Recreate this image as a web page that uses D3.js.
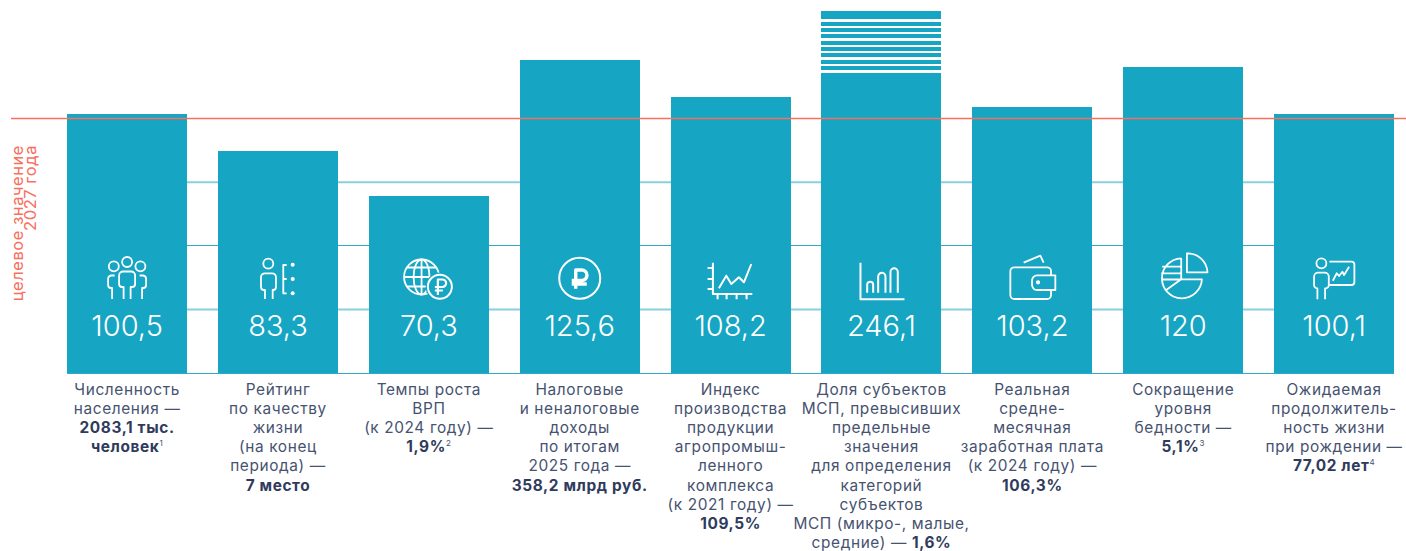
<!DOCTYPE html>
<html><head><meta charset="utf-8">
<script src="https://cdn.jsdelivr.net/npm/d3@7"></script>
<style>
html,body{margin:0;padding:0;background:#fff;overflow:hidden}
svg{display:block}
</style></head><body>
<svg id="chart" width="1406" height="551"></svg>
<script>
// ---- data ----
const categories = ["pop","rating","grp","tax","agro","sme","wage","poverty","life"];
const valueLabels = ["100,5","83,3","70,3","125,6","108,2","246,1","103,2","120","100,1"];
const barLevels = [101.8,87.2,69.5,123,108.4,142.2,104.5,120.2,101.8];
const breakGaps = [[137.9,139.1],[135.6,136.3],[133.2,134],[130.5,131.6],[128.1,128.9],[125.7,126.5],[123,124.2],[120.6,121.4],[117.9,119.1]];
const gridValues = [0,25,50,75];
const targetValue = 100;
const targetLabel = ["целевое значение","2027 года"];
const descriptions = [
 [["Численность"],["населения —"],["*2083,1 тыс."],["*человек","^1"]],
 [["Рейтинг"],["по качеству"],["жизни"],["(на конец"],["периода) —"],["*7 место"]],
 [["Темпы роста"],["ВРП"],["(к 2024 году) —"],["*1,9%","^2"]],
 [["Налоговые"],["и неналоговые"],["доходы"],["по итогам"],["2025 года —"],["*358,2 млрд руб."]],
 [["Индекс"],["производства"],["продукции"],["агропромыш-"],["ленного"],["комплекса"],["(к 2021 году) —"],["*109,5%"]],
 [["Доля субъектов"],["МСП, превысивших"],["предельные"],["значения"],["для определения"],["категорий"],["субъектов"],["МСП (микро-, малые,"],["средние) — ","*1,6%"]],
 [["Реальная"],["средне-"],["месячная"],["заработная плата"],["(к 2024 году) —"],["*106,3%"]],
 [["Сокращение"],["уровня"],["бедности —"],["*5,1%","^3"]],
 [["Ожидаемая"],["продолжитель-"],["ность жизни"],["при рождении —"],["*77,02 лет","^4"]]
];

// ---- style ----
const BAR="#16a5c3", RED="#f8705f", GRID_L="#8acfe0", GRID_D="#2fa9c5", TXT="#46526f", BOLD="#2f3b5c";
const FONT="Inter, 'Noto Sans', sans-serif";

const svg=d3.select("#chart");
const x=d3.scaleBand().domain(categories).range([67.1,1394.1]).paddingInner(0.2045).paddingOuter(0);
const y=d3.scaleLinear().domain([0,100]).range([373,118.5]);
const bx=c=>Math.round(x(c));
const cx=c=>x(c)+x.bandwidth()/2;

// gridlines
svg.append("g").selectAll("line").data(gridValues).join("line")
 .attr("x1",x.range()[0]).attr("x2",x.range()[1])
 .attr("y1",d=>d%50===0?Math.floor(y(d))+.5:y(d)).attr("y2",d=>d%50===0?Math.floor(y(d))+.5:y(d))
 .attr("stroke",d=>d%50===0?GRID_D:GRID_L)
 .attr("stroke-width",d=>d%50===0?1:2);

// bars
svg.append("g").selectAll("rect").data(categories).join("rect")
 .attr("x",d=>bx(d)).attr("width",120)
 .attr("y",(d,i)=>Math.round(y(barLevels[i]))).attr("height",(d,i)=>y(0)-Math.round(y(barLevels[i])))
 .attr("fill",BAR);

// axis-break stripes on the tall bar
svg.append("g").selectAll("rect").data(breakGaps).join("rect")
 .attr("x",bx("sme")).attr("width",120)
 .attr("y",d=>Math.round(y(d[1]))).attr("height",d=>Math.round(y(d[0]))-Math.round(y(d[1])))
 .attr("fill","#fff");

// target line
svg.append("line").attr("x1",11).attr("x2",1406).attr("y1",y(targetValue)).attr("y2",y(targetValue))
 .attr("stroke",RED).attr("stroke-width",1.5);

// target label
targetLabel.forEach((t,i)=>{
  svg.append("text").attr("transform",`translate(${22.5+i*13.5},145) rotate(-90)`)
   .attr("text-anchor","end").attr("font-family",FONT).attr("font-size",16.5)
   .attr("letter-spacing",0.55).attr("fill",RED).text(t);
});

// value labels
svg.append("g").selectAll("text").data(categories).join("text")
 .attr("x",d=>cx(d)).attr("y",336)
 .attr("text-anchor","middle").attr("font-family",FONT).attr("font-size",29).attr("font-weight",350)
 .attr("fill","#fff").text((d,i)=>valueLabels[i]);

// descriptions
const lh=19.2;
categories.forEach((c,i)=>{
  const g=svg.append("text").attr("text-anchor","middle").attr("font-family",FONT).attr("font-size",15.4).attr("letter-spacing",0.62);
  descriptions[i].forEach((parts,k)=>{
    parts.forEach((p,m)=>{
      const ts=g.append("tspan");
      if(m===0) ts.attr("x",cx(c)).attr("y",394.5+k*lh);
      if(p[0]==="*") ts.attr("font-weight",700).attr("fill",BOLD).text(p.slice(1));
      else if(p[0]==="^") ts.attr("font-size",8).attr("fill",TXT).attr("dy",-6).text(p.slice(1));
      else ts.attr("fill",TXT).text(p);
    });
  });
});

// icons: decorative pictograms in local coordinates, origin at bar centre / y=280
function person(g,hx,hy,bl,br,bt,bb,ll,lr,end){
  g.append("circle").attr("cx",hx).attr("cy",hy).attr("r",5);
  g.append("path").attr("d",`M${ll} ${end}V${bb}H${bl+3}a3 3 0 0 1-3-3V${bt+4}a4 4 0 0 1 4-4H${br-4}a4 4 0 0 1 4 4V${bb-3}a3 3 0 0 1-3 3H${lr}V${end}`);
}
const icons={
 pop(g){
  person(g,0,-18,-8,8,-8.5,7,-3.5,3.5,19);
  g.append("circle").attr("cx",-13.3).attr("cy",-13.7).attr("r",5);
  g.append("circle").attr("cx",13.3).attr("cy",-13.7).attr("r",5);
  g.append("path").attr("d","M-12.5-4.5h-3.500a3.500 3.500 0 0 0-3 3V5a3 3 0 0 0 3 3h1V19M12.500-4.500h3.500a3.500 3.500 0 0 1 3 3V5a3 3 0 0 1-3 3h-1V19");
 },
 rating(g){
  person(g,-9.7,-16.3,-17,-2,-6.7,10,-13,-5.3,19);
  g.append("path").attr("d","M8.700-15H5.300V13.300H8.700M5.300-1H8.700");
  [-15.3,-1,13.3].forEach(v=>g.append("circle").attr("cx",14.7).attr("cy",v).attr("r",2).attr("fill","#fff").attr("stroke","none"));
 },
 grp(g){
  g.append("circle").attr("cx",-7.3).attr("cy",-3).attr("r",17.5);
  g.append("ellipse").attr("cx",-7.3).attr("cy",-3).attr("rx",8).attr("ry",17.5);
  g.append("path").attr("d","M-7.3-20.500V14.500M-24.800-3H10.200M-22-12.500H7.400M-22 6.500H7.400");
  g.append("circle").attr("cx",11).attr("cy",6.700).attr("r",14.200).attr("fill",BAR).attr("stroke","none");
  g.append("circle").attr("cx",11).attr("cy",6.700).attr("r",12).attr("stroke-width",2);
  g.append("path").attr("stroke-width",2.2).attr("d","M9 15V-.5H13.500a3.500 3.500 0 0 1 0 7.500H6M6 10.500H14");
 },
 tax(g){
  g.append("circle").attr("cx",0).attr("cy",-1.700).attr("r",20.500).attr("stroke-width",2);
  g.append("path").attr("stroke-width",3.400).attr("d","M-4 8.700V-10H2a4.700 4.700 0 0 1 0 10.500H-8M-8 4H7");
 },
 agro(g){
  g.append("path").attr("stroke-width",2).attr("d","M-17.700-17.300V14H21.700M-23-12H-17.700M-23-1H-17.700M-23 9H-17.700M-13 14V19.300M-4 14V19.300M6 14V19.300M16 14V19.300");
  g.append("path").attr("stroke-width",2).attr("d","M-11.700 8.300L-4.300-4.300L.7 4L8.300-2.700L13.300 2.300L20.700-16");
 },
 sme(g){
  g.append("path").attr("stroke-width",2).attr("d","M-21-17.300V19.300H23");
  g.append("path").attr("stroke-width",2).attr("d","M-14.300 12.700V4.700a3 3 0 0 1 6 0V12.700M-3.300 12.700V-3.500a3.600 3.600 0 0 1 7.300 0V12.700M9 12.700V-8a3.600 3.600 0 0 1 7.300 0V12.700");
 },
 wage(g){
  g.append("rect").attr("x",-22).attr("y",-12.700).attr("width",40.700).attr("height",31.700).attr("rx",4);
  g.append("path").attr("d","M23-4.700H4.700a5 5 0 0 0-5 5V5a5 5 0 0 0 5 5H23Z").attr("fill",BAR);
  g.append("circle").attr("cx",5.700).attr("cy",2.300).attr("r",1.200);
  g.append("path").attr("d","M-8.700-17.300L8-24.300L11.300-17.300");
 },
 poverty(g){
  g.append("path").attr("d","M3.700-7.700V-26.700A20 20 0 0 1 24.300-7.700Z");
  g.append("path").attr("d","M-2-21.700A20 20 0 1 0 18.700-.7H-2V-21.700M-2-.7L-17 10M-21-13.300H-2M-22-6.700H-2M-21-.5H-2");
 },
 life(g){
  person(g,-12.700,-16.700,-20,-5.300,-7.300,8.300,-16.700,-9,19.300);
  g.append("path").attr("d","M-4.700-18.300H17.300a3 3 0 0 1 3 3V2a3 3 0 0 1-3 3H-4.700");
  g.append("path").attr("d","M-1.300.7L2.700-6.700L5-4L8.300-8.300L10-5L15-13.300");
 }
};
categories.forEach(c=>{
  const g=svg.append("g").attr("transform",`translate(${cx(c)},280)`)
   .attr("fill","none").attr("stroke","#fff").attr("stroke-width",1.8)
   .attr("stroke-linecap","butt").attr("stroke-linejoin","round");
  icons[c](g);
});
</script>
</body></html>
